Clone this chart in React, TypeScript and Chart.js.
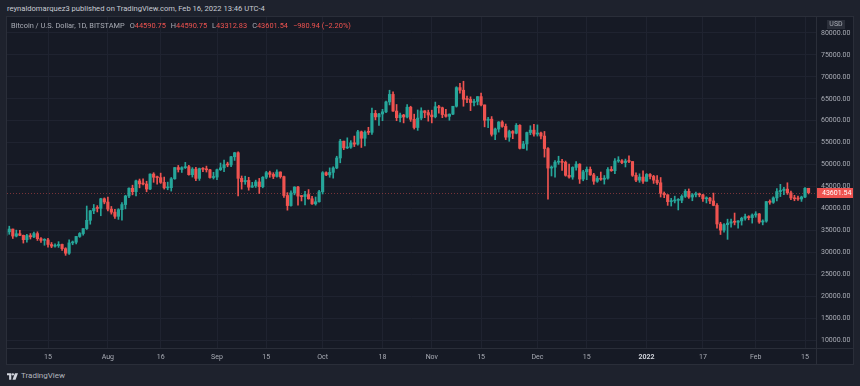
import React, { useEffect, useRef } from 'react';
import { Chart, registerables } from 'chart.js';

Chart.register(...registerables);

// Day index counted from 2021-07-01 (index 0). First candle: 2021-07-03.
const firstDayIndex = 2;

const opens = [
  33860, 34660, 35300, 33700, 34230, 33870, 32880, 33810, 33520, 34260, 33100, 32720, 32820, 31780, 31400, 31530, 31790, 30830, 29790, 32140, 32300, 33610, 34270, 35400, 37290, 39460, 40020, 40000, 42210,
  41460, 39850, 39150, 38200, 39720, 40880, 42830, 44600, 43820, 46280, 45600, 45560, 44420, 47830, 47110, 47020, 45940, 44690, 44730, 46760, 49320, 48880, 49290, 49520, 47700, 48960, 46850, 49080, 48930, 48810, 47050,
  47150, 48830, 49260, 49990, 49910, 51780, 52700, 46860, 46080, 46390, 44850, 45160, 46040, 44950, 47120, 48150, 47760, 47300, 48300, 47250, 42950, 40650, 43550, 44880, 42810, 42700, 43170, 42200, 41050, 41520,
  43800, 48150, 47650, 48220, 49230, 51500, 55340, 53800, 53950, 54960, 54660, 57470, 56000, 57370, 57350, 61670, 60870, 61530, 62020, 64280, 66000, 62200, 60700, 61300, 60850, 63080, 60330, 58450, 60600, 62250, 61850,
  61300, 60900, 63200, 62950, 61400, 61000, 61500, 63300, 67550, 66950, 64900, 64850, 64150, 64400, 65500, 63600, 60100, 60350, 56900, 58100, 59700, 58700, 56250, 57550, 57150, 58950, 53700, 54700, 57300, 57850,
  56950, 57200, 56500, 53650, 49200, 49400, 50550, 50600, 50500, 47550, 47150, 49350, 50100, 46700, 48350, 48900, 47650, 46200, 46850, 46650, 46900, 48900, 48600, 50800, 50850, 50450, 50800, 50700, 47550, 46450, 47150,
  46200, 47750, 47300, 46450, 45850, 43450, 43100, 41550, 41700, 41850, 41850, 42750, 43900, 42600, 43100, 43150, 43100, 42200, 42350, 41700, 40700, 36450, 35050, 36300, 36650, 36950, 36850, 37150, 37750, 38150, 37900,
  38500, 38750, 36900, 37100, 41550, 41400, 42400, 43850, 44100, 44400, 43550, 42400, 42200, 42150, 42600, 44590.75,
];

const highs = [
  34950, 35950, 35300, 35050, 35000, 33930, 34080, 34260, 34600, 34670, 33330, 33100, 33180, 32230, 31950, 32420, 31890, 31050, 32830, 32570, 33610, 34490, 35400, 40550, 39540, 40900, 40640, 42320, 42400,
  42600, 40450, 39770, 39950, 41350, 43000, 44700, 45300, 46450, 46700, 46750, 46200, 47900, 48150, 47380, 48050, 47150, 46000, 47050, 49350, 49800, 49500, 50500, 49850, 49300, 49350, 49200, 49300, 49650, 48900, 48250,
  48950, 50350, 51050, 50550, 51900, 52800, 52900, 47400, 47350, 47100, 45950, 46450, 46850, 47250, 48450, 48500, 48150, 48800, 48350, 47350, 43600, 44000, 44950, 45050, 42950, 43900, 44300, 42750, 42600, 44100,
  48400, 48350, 49250, 49500, 51900, 55750, 55350, 56100, 55450, 56500, 57800, 57650, 57700, 58500, 62900, 62350, 61700, 62600, 64450, 66950, 66600, 63700, 61750, 61450, 63700, 63300, 61500, 62450, 62950, 62300, 62400,
  62400, 64250, 63500, 63100, 62600, 61550, 63300, 67750, 68550, 69000, 65600, 65450, 64900, 65500, 66300, 63600, 60800, 60950, 58300, 59800, 60000, 59250, 57850, 57750, 59350, 59100, 55300, 57400, 58850, 59200,
  59050, 57400, 57550, 53850, 49700, 50900, 51900, 51200, 50800, 50100, 49500, 50700, 50200, 48700, 49450, 49450, 48000, 47300, 48300, 47500, 49300, 49550, 51350, 51800, 51150, 51250, 52000, 50700, 48100, 47900, 48550,
  47950, 47950, 47550, 47500, 47050, 43750, 43150, 42300, 42800, 42250, 43100, 44300, 44450, 43400, 43750, 43500, 43200, 42650, 42550, 43500, 41100, 36850, 36550, 37550, 37550, 38950, 37250, 38000, 38700, 38350, 38750,
  39250, 38850, 37400, 41600, 41950, 42650, 44500, 45500, 44800, 45850, 43950, 43000, 42800, 42800, 44750, 44590.75,
];

const lows = [
  33330, 34100, 33150, 33500, 33780, 32100, 32300, 33020, 33340, 32700, 32250, 31600, 31150, 31050, 31180, 31120, 30420, 29300, 29500, 31720, 31900, 33400, 33900, 35200, 36400, 38800, 39200, 38330, 41050,
  39450, 38700, 37700, 37500, 37350, 39900, 42450, 43100, 42850, 44700, 45350, 43800, 44250, 45950, 45550, 45700, 44400, 44250, 43950, 46650, 48300, 48200, 49100, 47600, 47150, 46350, 46400, 48400, 48300, 46900, 46700,
  46550, 48650, 48400, 49500, 49500, 50950, 42850, 44400, 45500, 44150, 44800, 44800, 43400, 44700, 46750, 47100, 46800, 47100, 46900, 42500, 39600, 40500, 43100, 40750, 41700, 40800, 42100, 40900, 40750, 41400,
  43300, 47450, 47100, 46900, 49050, 50400, 53400, 53650, 53700, 54100, 54450, 53900, 54250, 56850, 56850, 60200, 58950, 60000, 61850, 63600, 62100, 60000, 59700, 59500, 60650, 59850, 58100, 57800, 60200, 60700, 59900,
  59500, 60650, 61700, 60700, 60800, 60100, 61400, 63100, 66300, 63300, 64100, 62300, 63400, 63600, 63400, 58600, 58400, 56500, 55650, 57400, 58500, 55700, 55300, 55900, 57000, 53550, 53650, 53300, 56800, 56450,
  56500, 55850, 51700, 42100, 47400, 47150, 50050, 48650, 47350, 46900, 46650, 48700, 45700, 46300, 46550, 47550, 45500, 45950, 46400, 45550, 46650, 48450, 47950, 50500, 50200, 49450, 50450, 47300, 46100, 45950, 45700,
  46200, 46700, 45700, 45500, 42600, 42450, 40700, 40550, 41250, 39650, 41300, 42500, 42300, 41750, 42600, 42650, 41600, 41250, 41100, 40600, 35500, 34050, 34600, 32950, 35700, 36250, 35500, 36200, 37350, 37400, 36650,
  38000, 36600, 36250, 36850, 40950, 41150, 41700, 42700, 43150, 43200, 42000, 41750, 41850, 41600, 42450, 43312.83,
];

const closes = [
  34660, 35300, 33700, 34230, 33870, 32880, 33810, 33520, 34260, 33100, 32720, 32820, 31780, 31400, 31530, 31790, 30830, 29790, 32140, 32300, 33610, 34270, 35400, 37290, 39460, 40020, 40000, 42210, 41460,
  39850, 39150, 38200, 39720, 40880, 42830, 44600, 43820, 46280, 45600, 45560, 44420, 47830, 47110, 47020, 45940, 44690, 44730, 46760, 49320, 48880, 49290, 49520, 47700, 48960, 46850, 49080, 48930, 48810, 47050, 47150,
  48830, 49260, 49990, 49910, 51780, 52700, 46860, 46080, 46390, 44850, 45160, 46040, 44950, 47120, 48150, 47760, 47300, 48300, 47250, 42950, 40650, 43550, 44880, 42810, 42700, 43170, 42200, 41050, 41520, 43800,
  48150, 47650, 48220, 49230, 51500, 55340, 53800, 53950, 54960, 54660, 57470, 56000, 57370, 57350, 61670, 60870, 61530, 62020, 64280, 66000, 62200, 60700, 61300, 60850, 63080, 60330, 58450, 60600, 62250, 61850, 61300,
  60900, 63200, 62950, 61400, 61000, 61500, 63300, 67550, 66950, 64900, 64850, 64150, 64400, 65500, 63600, 60100, 60350, 56900, 58100, 59700, 58700, 56250, 57550, 57150, 58950, 53700, 54700, 57300, 57850, 56950,
  57200, 56500, 53650, 49200, 49400, 50550, 50600, 50500, 47550, 47150, 49350, 50100, 46700, 48350, 48900, 47650, 46200, 46850, 46650, 46900, 48900, 48600, 50800, 50850, 50450, 50800, 50700, 47550, 46450, 47150, 46200,
  47750, 47300, 46450, 45850, 43450, 43100, 41550, 41700, 41850, 41850, 42750, 43900, 42600, 43100, 43150, 43100, 42200, 42350, 41700, 40700, 36450, 35050, 36300, 36650, 36950, 36850, 37150, 37750, 38150, 37900, 38500,
  38750, 36900, 37100, 41550, 41400, 42400, 43850, 44100, 44400, 43550, 42400, 42200, 42150, 42600, 44590.75, 43601.54,
];

// Time axis: tick positions (day index from 2021-07-01) and labels
const timeTickValues = [14, 31, 46, 62, 76, 92, 109, 123, 137, 153, 167, 184, 200, 215, 229];
const timeTickLabels = ['15', 'Aug', '16', 'Sep', '15', 'Oct', '18', 'Nov', '15', 'Dec', '15', '2022', '17', 'Feb', '15'];
const yearTickValue = 184;

const priceTicks = [10000, 15000, 20000, 25000, 30000, 35000, 40000, 45000, 50000, 55000, 60000, 65000, 70000, 75000, 80000];

const legendTitle = 'Bitcoin / U.S. Dollar, 1D, BITSTAMP';
const legendO = '44590.75';
const legendH = '44590.75';
const legendL = '43312.83';
const legendC = '43601.54';
const legendChange = '−980.94 (−2.20%)';
const headerText = 'reynaldomarquez3 published on TradingView.com, Feb 16, 2022 13:46 UTC-4';

const UP = '#26a69a';
const DOWN = '#ef5350';
const FONT = "Roboto, 'Liberation Sans', Arial, sans-serif";
const TEXT = '#a9acb5';
const PANEL_BG = '#161a25';
const OUTER_BG = '#1e222d';
const LINE = '#2a2e39';

export default function App() {
  const ref = useRef<HTMLCanvasElement | null>(null);

  useEffect(() => {
    if (!ref.current) return;
    const lastClose = closes[closes.length - 1];
    const lastOpen = opens[opens.length - 1];
    const colors = closes.map((c, i) => (c >= opens[i] ? UP : DOWN));

    const overlay = {
      id: 'tvOverlay',
      beforeDatasetsDraw(chart: any) {
        const { ctx, chartArea, scales } = chart;
        const py = Math.round(scales.y.getPixelForValue(lastClose)) + 0.5;
        ctx.save();
        ctx.strokeStyle = 'rgba(239,83,80,0.45)';
        ctx.lineWidth = 1;
        ctx.setLineDash([1, 2]);
        ctx.beginPath();
        ctx.moveTo(chartArea.left, py);
        ctx.lineTo(chartArea.right, py);
        ctx.stroke();
        ctx.restore();
      },
      afterDraw(chart: any) {
        const { ctx, chartArea, scales, width, height } = chart;
        ctx.save();
        ctx.strokeStyle = LINE;
        ctx.lineWidth = 1;
        ctx.beginPath();
        ctx.moveTo(Math.round(chartArea.right) + 0.5, 0);
        ctx.lineTo(Math.round(chartArea.right) + 0.5, height);
        ctx.moveTo(0, Math.round(chartArea.bottom) + 0.5);
        ctx.lineTo(width, Math.round(chartArea.bottom) + 0.5);
        ctx.stroke();
        // current price label
        const py = scales.y.getPixelForValue(lastClose);
        const bx = Math.round(chartArea.right) + 1;
        ctx.fillStyle = lastClose >= lastOpen ? UP : DOWN;
        ctx.fillRect(bx, Math.round(py) - 5, width - bx, 10);
        ctx.fillStyle = '#ffffff';
        ctx.font = `7px ${FONT}`;
        ctx.textBaseline = 'middle';
        ctx.textAlign = 'left';
        ctx.fillText(lastClose.toFixed(2), bx + 5, Math.round(py) + 0.5);
        // currency label
        ctx.fillStyle = '#2a2e39';
        ctx.fillRect(bx + 10, 3, 18, 9);
        ctx.fillStyle = TEXT;
        ctx.textAlign = 'center';
        ctx.fillText('USD', bx + 19, 7.5);
        ctx.restore();
      },
    };

    const chart = new Chart(ref.current, {
      type: 'bar',
      data: {
        datasets: [
          {
            label: 'body',
            order: 0,
            data: closes.map((c, i) => ({ x: firstDayIndex + i, y: [opens[i], c] })) as any,
            backgroundColor: colors,
            borderWidth: 0,
            barThickness: 2.5,
            minBarLength: 1,
            grouped: false,
          },
          {
            label: 'wick',
            order: 1,
            data: closes.map((c, i) => ({ x: firstDayIndex + i, y: [lows[i], highs[i]] })) as any,
            backgroundColor: colors,
            borderWidth: 0,
            barThickness: 1,
            grouped: false,
          },
        ],
      },
      options: {
        animation: false,
        responsive: false,
        devicePixelRatio: 1,
        layout: { padding: 0 },
        plugins: { legend: { display: false }, tooltip: { enabled: false } },
        scales: {
          x: {
            type: 'linear',
            offset: false,
            min: 2.355,
            max: 232.12,
            afterBuildTicks: (s: any) => {
              s.ticks = timeTickValues.map((v) => ({ value: v }));
            },
            afterFit: (s: any) => {
              s.height = 16;
              s.paddingLeft = 0;
              s.paddingRight = 0;
              s.paddingTop = 0;
              s.paddingBottom = 0;
            },
            grid: { color: '#1f2330', drawTicks: false, offset: false },
            border: { display: false },
            ticks: {
              autoSkip: false,
              maxRotation: 0,
              padding: 5,
              color: (ctx: any) => (ctx.tick && ctx.tick.value === yearTickValue ? '#d1d4dc' : TEXT),
              font: (ctx: any) => ({
                family: FONT,
                size: 7,
                weight: ctx.tick && ctx.tick.value === yearTickValue ? 'bold' : 'normal',
              }),
              callback: (v: any) => {
                const k = timeTickValues.indexOf(Number(v));
                return k >= 0 ? timeTickLabels[k] : '';
              },
            },
          },
          y: {
            position: 'right',
            min: 8176,
            max: 83648,
            afterBuildTicks: (s: any) => {
              s.ticks = priceTicks.map((v) => ({ value: v }));
            },
            afterFit: (s: any) => {
              s.width = 37;
              s.paddingTop = 0;
              s.paddingBottom = 0;
              s.paddingLeft = 0;
              s.paddingRight = 0;
            },
            grid: { color: '#1f2330', drawTicks: false },
            border: { display: false },
            ticks: {
              padding: 5,
              color: TEXT,
              font: { family: FONT, size: 7 },
              callback: (v: any) => Number(v).toFixed(2),
            },
          },
        },
      },
      plugins: [overlay],
    } as any);

    return () => chart.destroy();
  }, []);

  const red = { color: DOWN };
  return (
    <div style={{ position: 'fixed', left: 0, top: 0, width: 860, height: 386, background: OUTER_BG, fontFamily: FONT, overflow: 'hidden' }}>
      <div style={{ position: 'absolute', left: 7, top: 4, fontSize: 7.6, color: '#c8cbd3', whiteSpace: 'nowrap', lineHeight: '10px' }}>
        {headerText}
      </div>
      <div style={{ position: 'absolute', left: 7, top: 17, width: 846, height: 347, background: PANEL_BG, outline: `1px solid ${LINE}` }}>
        <canvas ref={ref} width={846} height={347} style={{ display: 'block', width: 846, height: 347 }} />
        <div style={{ position: 'absolute', left: 4, top: 4, fontSize: 7.4, color: TEXT, whiteSpace: 'nowrap', lineHeight: '9px' }}>
          <span>{legendTitle}</span>
          <span style={{ marginLeft: 5 }}>O</span><span style={red}>{legendO}</span>
          <span style={{ marginLeft: 5 }}>H</span><span style={red}>{legendH}</span>
          <span style={{ marginLeft: 5 }}>L</span><span style={red}>{legendL}</span>
          <span style={{ marginLeft: 5 }}>C</span><span style={red}>{legendC}</span>
          <span style={{ ...red, marginLeft: 5 }}>{legendChange}</span>
        </div>
      </div>
      <div style={{ position: 'absolute', left: 7, top: 371, display: 'flex', alignItems: 'center', color: '#b2b5be' }}>
        <svg width="11" height="7" viewBox="0 0 36 22" style={{ display: 'block' }}>
          <path d="M0 0h14v22H7V7H0z" fill="#d1d4dc" />
          <circle cx="19" cy="4" r="4" fill="#d1d4dc" />
          <path d="M26 0h10l-8 22h-10z" fill="#d1d4dc" />
        </svg>
        <span style={{ marginLeft: 3, fontSize: 8, lineHeight: '10px' }}>TradingView</span>
      </div>
    </div>
  );
}
